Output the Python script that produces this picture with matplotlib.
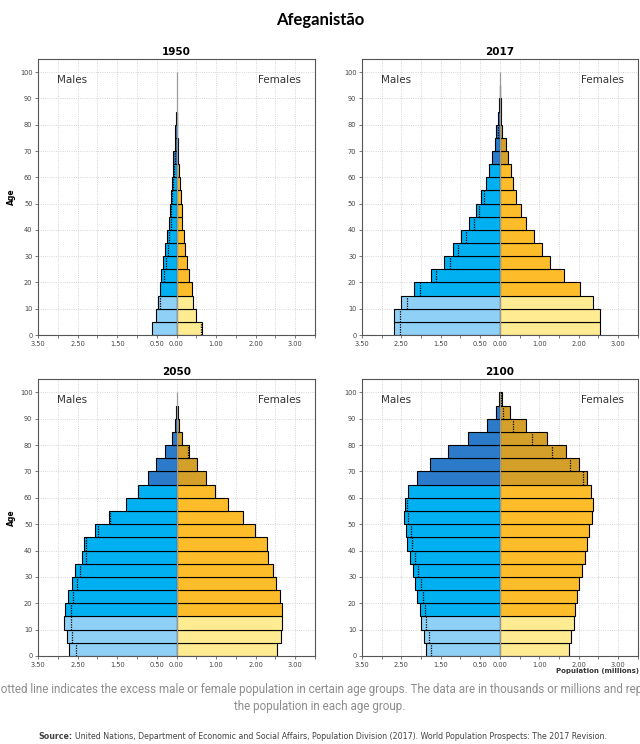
import matplotlib.pyplot as plt
import numpy as np

# population by 5-year age group (millions), age groups 0-4 ... 95-99
age_starts = list(range(0, 100, 5))

male_1950 = [0.62, 0.51, 0.46, 0.41, 0.38, 0.33, 0.29, 0.24, 0.20, 0.17,
             0.15, 0.12, 0.10, 0.08, 0.05, 0.03, 0.02, 0, 0, 0]
female_1950 = [0.65, 0.49, 0.42, 0.38, 0.32, 0.26, 0.22, 0.18, 0.14, 0.13,
               0.11, 0.08, 0.06, 0.04, 0.03, 0.02, 0.01, 0, 0, 0]

male_2017 = [2.70, 2.70, 2.51, 2.17, 1.75, 1.41, 1.18, 0.98, 0.79, 0.61,
             0.48, 0.35, 0.28, 0.20, 0.13, 0.09, 0.05, 0.03, 0.01, 0]
female_2017 = [2.53, 2.53, 2.36, 2.03, 1.63, 1.27, 1.07, 0.87, 0.67, 0.54,
               0.41, 0.34, 0.27, 0.21, 0.15, 0.05, 0.04, 0.02, 0.01, 0]

male_2050 = [2.71, 2.76, 2.84, 2.81, 2.74, 2.64, 2.56, 2.40, 2.34, 2.07,
             1.70, 1.28, 0.97, 0.73, 0.51, 0.28, 0.12, 0.05, 0.02, 0]
female_2050 = [2.55, 2.63, 2.67, 2.67, 2.61, 2.51, 2.43, 2.30, 2.28, 1.98,
               1.67, 1.29, 0.97, 0.74, 0.51, 0.32, 0.14, 0.07, 0.03, 0]

male_2100 = [1.88, 1.93, 2.00, 2.04, 2.10, 2.16, 2.21, 2.28, 2.35, 2.38,
             2.43, 2.40, 2.32, 2.11, 1.77, 1.31, 0.81, 0.34, 0.09, 0.02]
female_2100 = [1.76, 1.81, 1.87, 1.91, 1.95, 2.01, 2.09, 2.15, 2.22, 2.26,
               2.33, 2.36, 2.30, 2.22, 2.01, 1.67, 1.19, 0.66, 0.26, 0.06]

years = ["1950", "2017", "2050", "2100"]
pyramids = {
    "1950": (male_1950, female_1950),
    "2017": (male_2017, female_2017),
    "2050": (male_2050, female_2050),
    "2100": (male_2100, female_2100),
}

tick_values = [-3.5, -2.5, -1.5, -0.5, 0.0, 1.0, 2.0, 3.0]
tick_labels = ["3.50", "2.50", "1.50", "0.50", "0.00", "1.00", "2.00", "3.00"]

MALE_COLORS = ["#8fd0f7", "#00b0f0", "#2c7bcb"]
FEMALE_COLORS = ["#ffeb92", "#fdbc2a", "#d4a02a"]


def group_color(age, palette):
    if age < 15:
        return palette[0]
    if age < 65:
        return palette[1]
    return palette[2]


def plot_pyramid(ax, title, male, female, show_age):
    male = np.array(male)
    female = np.array(female)
    ages = np.array(age_starts)

    # grid
    for x in np.arange(-3.5, 3.51, 0.5):
        ax.axvline(x, color="#c8c8c8", lw=0.6, ls=":", zorder=0)
    for y in range(10, 101, 10):
        ax.axhline(y, color="#c8c8c8", lw=0.6, ls=":", zorder=0)

    keep = (male > 0) | (female > 0)
    m_colors = [group_color(a, MALE_COLORS) for a in ages[keep]]
    f_colors = [group_color(a, FEMALE_COLORS) for a in ages[keep]]
    ax.barh(ages[keep], -male[keep], height=5, align="edge", color=m_colors,
            edgecolor="black", linewidth=0.8, zorder=2)
    ax.barh(ages[keep], female[keep], height=5, align="edge", color=f_colors,
            edgecolor="black", linewidth=0.8, zorder=2)

    ax.vlines(0, 0, 100, color="#9a9a9a", lw=0.9, zorder=2.5)

    # dotted line marks the smaller sex inside the larger bar
    for a, m, f in zip(ages[keep], male[keep], female[keep]):
        if m - f > 0.03:
            ax.vlines(-f, a, a + 5, color="black", lw=0.9, ls=(0, (1, 1)), zorder=3)
        elif f - m > 0.03:
            ax.vlines(m, a, a + 5, color="black", lw=0.9, ls=(0, (1, 1)), zorder=3)

    ax.set_xlim(-3.5, 3.5)
    ax.set_ylim(0, 105)
    ax.set_xticks(np.arange(-3.5, 3.51, 0.5))
    labels = []
    for x in np.arange(-3.5, 3.51, 0.5):
        match = [lab for v, lab in zip(tick_values, tick_labels) if abs(v - x) < 1e-6]
        labels.append(match[0] if match else "")
    ax.set_xticklabels(labels)
    ax.set_yticks(range(0, 101, 10))
    ax.tick_params(labelsize=4.8, colors="#444444", length=2, width=0.5, pad=2)
    for spine in ax.spines.values():
        spine.set_color("#555555")
        spine.set_linewidth(0.8)

    ax.set_title(title, fontsize=7.5, fontweight="bold", pad=3)
    ax.text(-3.02, 97, "Males", fontsize=7.5, color="#333333", va="center", ha="left")
    ax.text(3.14, 97, "Females", fontsize=7.5, color="#333333", va="center", ha="right")
    if show_age:
        ax.set_ylabel("Age", fontsize=5.5, fontweight="bold", labelpad=3)


fig = plt.figure(figsize=(6.4, 7.44), dpi=100)
positions = {
    "1950": [0.0594, 0.5497, 0.4328, 0.371],
    "2017": [0.5656, 0.5497, 0.4310, 0.371],
    "2050": [0.0594, 0.1183, 0.4328, 0.372],
    "2100": [0.5656, 0.1183, 0.4310, 0.372],
}
for year in years:
    ax = fig.add_axes(positions[year])
    male, female = pyramids[year]
    plot_pyramid(ax, year, male, female, show_age=year in ("1950", "2050"))

fig.text(0.5, 0.973, "Afeganistão", fontsize=12, fontweight="bold",
         family="Lato", ha="center", va="center")
fig.text(0.998, 0.1025, "Population (millions)", fontsize=5, fontweight="bold",
         ha="right", va="top", color="#333333")
fig.text(0.505, 0.073,
         "The dotted line indicates the excess male or female population in certain age groups. "
         "The data are in thousands or millions and represent",
         fontsize=8.4, family="Roboto", color="#8c8c8c",
         ha="center", va="center")
fig.text(0.5, 0.050, "the population in each age group.",
         fontsize=8.4, family="Roboto", color="#8c8c8c",
         ha="center", va="center")
fig.text(0.113, 0.004, "Source:", fontsize=5.7, fontweight="bold",
         color="#444444", ha="right", va="bottom")
fig.text(0.117, 0.004,
         "United Nations, Department of Economic and Social Affairs, "
         "Population Division (2017). World Population Prospects: The 2017 Revision.",
         fontsize=5.7, color="#444444", ha="left", va="bottom")

fig.savefig("out.png", dpi=100)
